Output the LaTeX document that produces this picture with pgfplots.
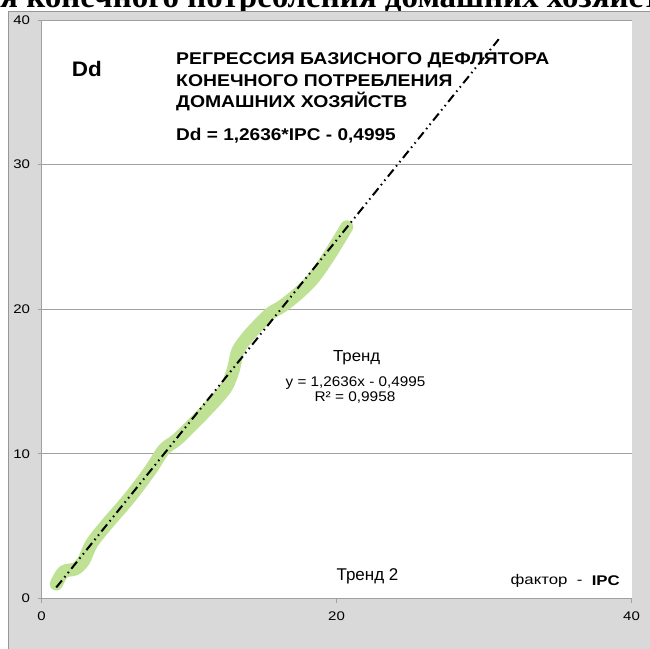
\documentclass[border=0pt]{standalone}
\usepackage{fontspec}
\usepackage{graphicx}
\setmainfont{Liberation Sans}
\newfontfamily\serifb{Liberation Serif}
\newfontfamily\tickfont[FakeStretch=1.2]{Liberation Sans}
\usepackage{pgfplots}
\pgfplotsset{compat=1.18}
\definecolor{bggray}{RGB}{217,217,217}
\definecolor{framegray}{RGB}{150,150,150}
\definecolor{axgray}{RGB}{160,160,160}
\definecolor{lgreen}{RGB}{190,225,148}
\begin{document}
\begin{tikzpicture}[x=1bp,y=1bp]
\useasboundingbox (0,0) rectangle (649,649);
\node[anchor=base west, inner sep=0pt, font=\serifb\bfseries\fontsize{33bp}{36bp}\selectfont] at (0,641) {\llap{Регресси}я конечного потребления домашних хозяйств};
\fill[bggray] (8,-1) rectangle (650,637);
\draw[framegray, line width=1bp] (8,-1) -- (8,637) -- (650,637);
\begin{axis}[
  at={(41.5bp,50.5bp)}, anchor=south west, scale only axis,
  width=590bp, height=578.5bp,
  xmin=0, xmax=40, ymin=0, ymax=40,
  xtick={0,20,40}, ytick={0,10,20,30,40},
  axis lines=left, axis line style={-, axgray, line width=1bp},
  ymajorgrids, grid style={axgray, line width=0.8bp},
  axis background/.style={fill=white},
  tick style={axgray, line width=0.8bp},
  tick align=outside, major tick length=4bp,
  ticklabel style={font=\tickfont\fontsize{12.5bp}{14bp}\selectfont, text=black},
  xticklabel style={yshift=-6bp},
  yticklabel style={xshift=-4bp},
  /pgf/number format/assume math mode=true,
]
\addplot[lgreen, line width=13bp, smooth, tension=0.5, line cap=round, line join=round] coordinates {
(1.0,1.0) (1.5,1.85) (2.3,2.05) (2.85,2.6) (3.4,3.8) (4.4,5.1) (6.0,7.0) (7.4,8.9) (8.3,10.3) (9.2,11.0) (10.5,12.3) (11.8,13.7) (12.55,14.65) (13.0,15.8) (13.3,17.1) (13.9,18.0) (14.6,18.8) (15.5,19.7) (16.3,20.2) (17.3,21.0) (18.4,22.1) (19.5,23.7) (20.7,25.7)
};
\addplot[black, line width=2bp, dash pattern=on 9bp off 4bp on 1.5bp off 4bp on 1.5bp off 4bp] coordinates {(1,0.7641) (31,38.6721)};
\end{axis}
\node[anchor=base west, inner sep=0pt, font=\bfseries\fontsize{21bp}{24bp}\selectfont] at (71.7,572.3) {\scalebox{1.07}[1]{Dd}};
\node[anchor=base west, inner sep=0pt, font=\bfseries\fontsize{17bp}{19bp}\selectfont] at (176,584) {\scalebox{1.14}[1]{РЕГРЕССИЯ БАЗИСНОГО ДЕФЛЯТОРА}};
\node[anchor=base west, inner sep=0pt, font=\bfseries\fontsize{17bp}{19bp}\selectfont] at (176,562.3) {\scalebox{1.14}[1]{КОНЕЧНОГО ПОТРЕБЛЕНИЯ}};
\node[anchor=base west, inner sep=0pt, font=\bfseries\fontsize{17bp}{19bp}\selectfont] at (176,541.7) {\scalebox{1.14}[1]{ДОМАШНИХ ХОЗЯЙСТВ}};
\node[anchor=base west, inner sep=0pt, font=\bfseries\fontsize{17bp}{19bp}\selectfont] at (176,508) {\scalebox{1.12}[1]{Dd = 1,2636*IPC - 0,4995}};
\node[anchor=base, inner sep=0pt, font=\fontsize{16bp}{18bp}\selectfont] at (356.7,287.3) {\scalebox{1.05}[1]{Тренд}};
\node[anchor=base, inner sep=0pt, font=\fontsize{14bp}{16bp}\selectfont] at (355.5,262.3) {\scalebox{1.09}[1]{y = 1,2636x - 0,4995}};
\node[anchor=base, inner sep=0pt, font=\fontsize{14bp}{16bp}\selectfont] at (355,247.3) {\scalebox{1.1}[1]{R² = 0,9958}};
\node[anchor=base, inner sep=0pt, font=\fontsize{17bp}{19bp}\selectfont] at (367.5,68) {Тренд 2};
\node[anchor=base east, inner sep=0pt, font=\fontsize{14bp}{16bp}\selectfont] at (620,64) {\scalebox{1.2}[1]{фактор~~-~~\textbf{IPC}}};
\end{tikzpicture}
\end{document}
